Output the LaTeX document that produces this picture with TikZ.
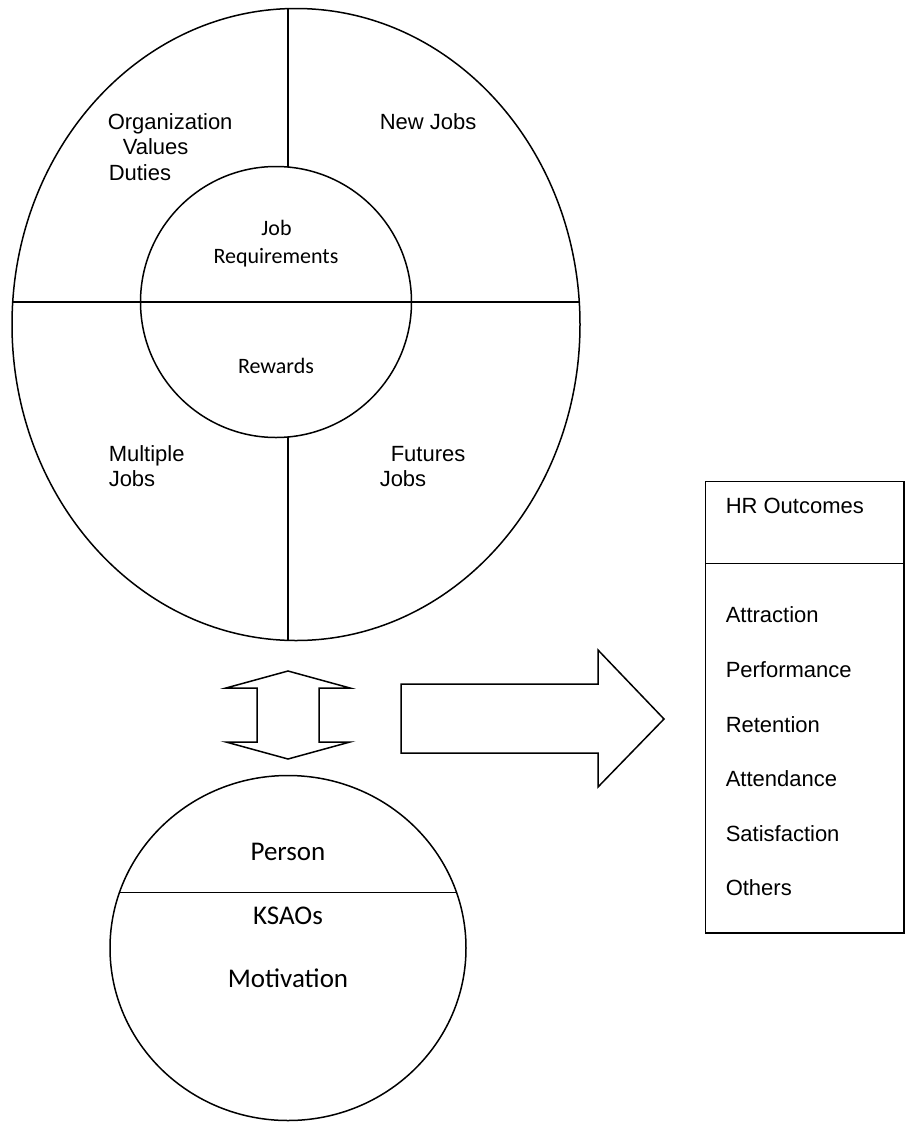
\documentclass[tikz,border=0pt]{standalone}
\usepackage{fontspec}
\setmainfont{Liberation Sans}
\newfontfamily\calfont{Carlito}

\begin{document}
\begin{tikzpicture}[x=1pt,y=-1pt,line width=1.5pt,
	armtxt/.style={inner sep=0pt, anchor=west, text height=15.8pt, text depth=0pt, font=\fontsize{22}{26}\selectfont},
	caltxt/.style={inner sep=0pt, text height=14.2pt, text depth=0pt, font=\calfont\fontsize{22}{26}\selectfont},
	bigcal/.style={inner sep=0pt, text height=17.4pt, text depth=0pt, font=\calfont\fontsize{27}{32}\selectfont}]
	\useasboundingbox (0,0) rectangle (905,1122);
	% job ring
	\draw (296,324.5) ellipse [x radius=284, y radius=316];
	\draw (12.5,302) -- (579.5,302);
	\draw (288,8.6) -- (288,167);
	\draw (288,437) -- (288,640.4);
	\draw (276,302) circle [radius=135.5];
	\node [armtxt] (org) at (107,122) {Organization};
	\node [armtxt] (values) at (122,147) {Values};
	\node [armtxt] (duties) at (108,173) {Duties};
	\node [armtxt] (newjobs) at (379,122) {New Jobs};
	\node [armtxt] (multi) at (108,454) {Multiple};
	\node [armtxt] (multijobs) at (108,479) {Jobs};
	\node [armtxt] (futures) at (390,454) {Futures};
	\node [armtxt] (futjobs) at (379,479) {Jobs};
	\node [caltxt] (job) at (276.5,228) {Job};
	\node [caltxt] (req) at (276,256.5) {Requirements};
	\node [caltxt] (rewards) at (276,366.5) {Rewards};
	% match arrows
	\draw (288,671) -- (350,688) -- (319,688) -- (319,742) -- (350,742) -- (288,759)
		-- (226,742) -- (257,742) -- (257,688) -- (226,688) -- cycle;
	\draw (401,684) -- (598,684) -- (598,650) -- (664,719) -- (598,787) -- (598,753)
		-- (401,753) -- cycle;
	% person
	\draw (288,948) ellipse [x radius=178, y radius=172.5];
	\draw (119.4,892.7) -- (456.6,892.7);
	\node [bigcal] (person) at (288,851.7) {Person};
	\node [bigcal] (ksaos) at (288,915.7) {KSAOs};
	\node [bigcal] (motiv) at (288,979) {Motivation};
	% outcomes
	\draw (705.7,481.7) rectangle (904,933);
	\draw (705.7,563.3) -- (904,563.3);
	\node [armtxt] (hrout) at (725,506) {HR Outcomes};
	\foreach \txt [count=\i] in {Attraction,Performance,Retention,Attendance,Satisfaction,Others}
		\node [armtxt] (out\i) at (725,{615+54.6*(\i-1)}) {\txt};
\end{tikzpicture}
\end{document}
